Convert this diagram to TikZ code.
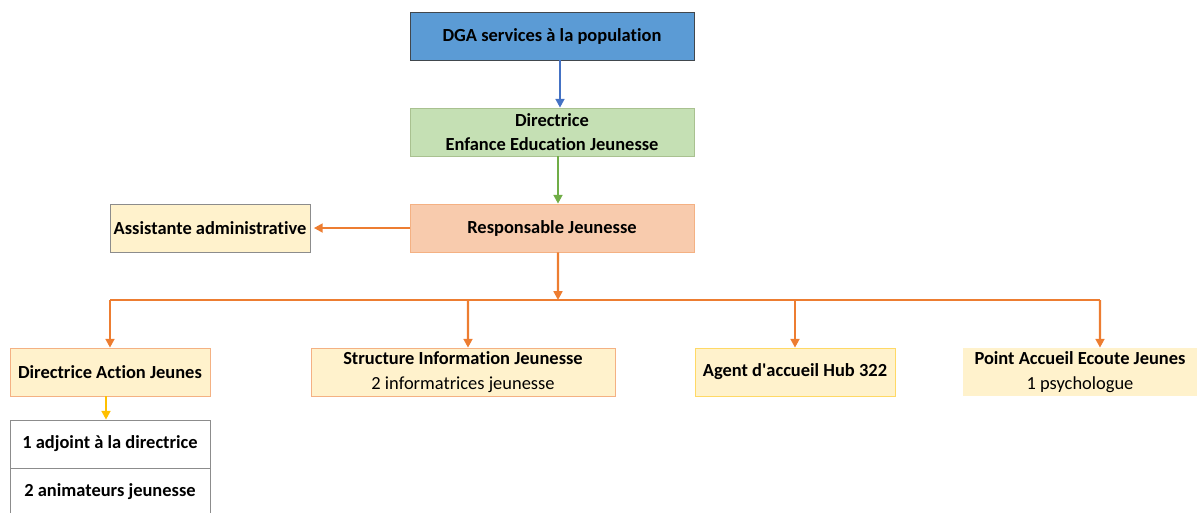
\documentclass[tikz,border=0pt]{standalone}
\usepackage{fontspec}
\setmainfont{Carlito}[Ligatures={NoCommon}]
\usetikzlibrary{arrows.meta}
\definecolor{dgablue}{HTML}{5B9BD5}
\definecolor{dgaborder}{HTML}{41474D}
\definecolor{eejgreen}{HTML}{C5E0B4}
\definecolor{eejborder}{HTML}{A9C190}
\definecolor{respfill}{HTML}{F8CBAD}
\definecolor{orangeline}{HTML}{ED7D31}
\definecolor{orangeborder}{HTML}{F4B183}
\definecolor{lightyellow}{HTML}{FFF2CC}
\definecolor{yellowborder}{HTML}{FFD966}
\definecolor{grayborder}{HTML}{8C8C8C}
\definecolor{arrowblue}{HTML}{4472C4}
\definecolor{arrowgreen}{HTML}{70AD47}
\definecolor{arrowyellow}{HTML}{FFC000}
\begin{document}
\begin{tikzpicture}[x=0.02cm,y=-0.02cm,
  box/.style={rectangle, inner sep=0pt, align=center, font=\fontsize{10.5}{14}\selectfont\bfseries, text=black},
  conn/.style={line width=1.3pt, -{Triangle[length=5pt,width=5pt]}},
]
\useasboundingbox (0,0) rectangle (1197,512);
% top chain
\node[box, fill=dgablue, draw=dgaborder, minimum width=5.68cm, minimum height=0.96cm] (dga) at (552,36) {DGA services à la population};
\node[box, fill=eejgreen, draw=eejborder, minimum width=5.68cm, minimum height=0.96cm] (eej) at (552,132) {Directrice\\Enfance Education Jeunesse};
\node[box, fill=respfill, draw=orangeborder, minimum width=5.68cm, minimum height=0.96cm] (resp) at (552,228) {Responsable Jeunesse};
\node[box, fill=lightyellow, draw=grayborder, minimum width=4.0cm, minimum height=0.96cm] (asst) at (210,228) {Assistante administrative};
% bottom row
\node[box, fill=lightyellow, draw=orangeborder, minimum width=4.0cm, minimum height=0.96cm] (daj) at (110,372) {Directrice Action Jeunes};
\node[box, fill=lightyellow, draw=orangeborder, minimum width=6.08cm, minimum height=0.96cm] (sij) at (463,372) {Structure Information Jeunesse\\\mdseries 2 informatrices jeunesse};
\node[box, fill=lightyellow, draw=yellowborder, minimum width=4.0cm, minimum height=0.96cm] (agent) at (795,372) {Agent d\textquotesingle accueil Hub 322};
\node[box, fill=lightyellow, minimum width=4.68cm, minimum height=0.96cm] (pae) at (1080,372) {Point Accueil Ecoute Jeunes\\\mdseries 1 psychologue};
\node[box, fill=white, draw=grayborder, minimum width=4.0cm, minimum height=0.96cm] (adj) at (110,444) {1 adjoint à la directrice};
\node[box, fill=white, draw=grayborder, minimum width=4.0cm, minimum height=0.96cm] (anim) at (110,492) {2 animateurs jeunesse};
% connectors
\draw[conn, arrowblue] ([xshift=0.16cm]dga.south) -- ([xshift=0.16cm]eej.north);
\draw[conn, arrowgreen] ([xshift=0.12cm]eej.south) -- ([xshift=0.12cm]resp.north);
\draw[conn, orangeline] (resp.west) -- ([xshift=2pt]asst.east);
\coordinate (hub) at (558,300);
\draw[conn, orangeline] ([xshift=0.12cm]resp.south) -- (hub);
\draw[line width=1.3pt, orangeline] (110,300) -- (1100,300);
\draw[conn, orangeline] (110,300) -- (daj.north);
\draw[conn, orangeline] (468,300) -- ([xshift=0.1cm]sij.north);
\draw[conn, orangeline] (795,300) -- (agent.north);
\draw[conn, orangeline] (1100,300) -- ([xshift=0.4cm]pae.north);
\draw[conn, arrowyellow] ([xshift=-0.08cm]daj.south) -- ([xshift=-0.08cm]adj.north);
\end{tikzpicture}
\end{document}
